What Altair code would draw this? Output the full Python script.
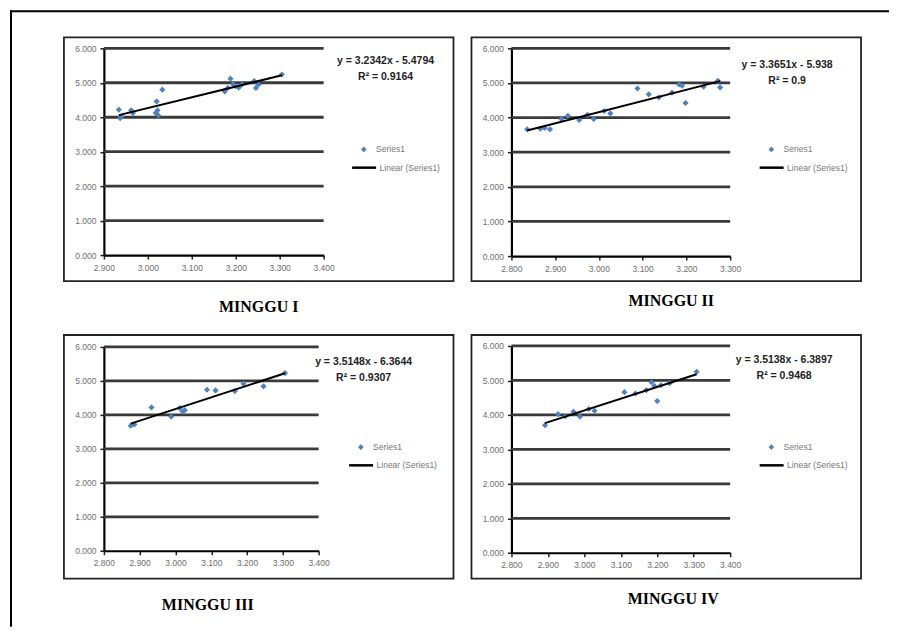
import altair as alt
import pandas as pd

# ---------------- data ----------------
titles = ["MINGGU I", "MINGGU II", "MINGGU III", "MINGGU IV"]
equations = ["y = 3.2342x - 5.4794", "y = 3.3651x - 5.938",
             "y = 3.5148x - 6.3644", "y = 3.5138x - 6.3897"]
r_squared = ["R\u00b2 = 0.9164", "R\u00b2 = 0.9", "R\u00b2 = 0.9307", "R\u00b2 = 0.9468"]
series_name = "Series1"
trend_name = "Linear (Series1)"

y_ticks = [0, 1, 2, 3, 4, 5, 6]
x_ticks_1 = [2.9, 3.0, 3.1, 3.2, 3.3, 3.4]
x_ticks_2 = [2.8, 2.9, 3.0, 3.1, 3.2, 3.3]
x_ticks_3 = [2.8, 2.9, 3.0, 3.1, 3.2, 3.3, 3.4]
x_ticks_4 = [2.8, 2.9, 3.0, 3.1, 3.2, 3.3, 3.4]

m1_x = [2.934, 2.937, 2.940, 2.962, 2.966, 3.018, 3.020, 3.022, 3.024, 3.033, 3.175,
        3.182, 3.188, 3.194, 3.200, 3.207, 3.214, 3.242, 3.246, 3.252, 3.305]
m1_y = [4.22, 3.97, 4.02, 4.20, 4.12, 4.12, 4.46, 4.20, 4.05, 4.80, 4.75,
        4.85, 5.12, 4.96, 4.90, 4.86, 4.95, 5.05, 4.85, 4.95, 5.24]

m2_x = [2.836, 2.866, 2.876, 2.888, 2.914, 2.929, 2.955, 2.974, 2.988, 3.012, 3.026,
        3.088, 3.114, 3.137, 3.167, 3.183, 3.190, 3.198, 3.239, 3.272, 3.277]
m2_y = [3.66, 3.68, 3.70, 3.66, 3.96, 4.05, 3.93, 4.08, 3.96, 4.19, 4.12,
        4.84, 4.67, 4.58, 4.72, 4.96, 4.92, 4.42, 4.89, 5.06, 4.87]

m3_x = [2.875, 2.885, 2.933, 2.988, 3.012, 3.020, 3.026, 3.088, 3.112, 3.166,
        3.190, 3.246, 3.306]
m3_y = [3.68, 3.72, 4.22, 3.95, 4.20, 4.10, 4.14, 4.74, 4.72, 4.70,
        4.92, 4.84, 5.23]

m4_x = [2.892, 2.928, 2.948, 2.970, 2.988, 3.012, 3.028, 3.110, 3.140, 3.170,
        3.184, 3.192, 3.200, 3.210, 3.234, 3.308]
m4_y = [3.70, 4.02, 3.96, 4.09, 3.95, 4.17, 4.12, 4.66, 4.62, 4.72,
        4.95, 4.84, 4.40, 4.86, 4.92, 5.25]

# ---------------- styling / layout ----------------
BOX_W = 390
BOX_H = 244
LABEL_FONT = "Liberation Sans"
POINT_COLOR = "#4F81BD"


def panel(xs, ys, xticks, eq, r2, title, xr, yr, eq_pos, leg_shift,
          title_pos, frame=False):
    df = pd.DataFrame({"x": xs, "y": ys, "s": [series_name] * len(xs)})
    xscale = alt.Scale(domain=[xticks[0], xticks[-1]], range=xr, nice=False, zero=False)
    yscale = alt.Scale(domain=[y_ticks[0], y_ticks[-1]], range=yr, nice=False, zero=False)
    common = dict(title=None, grid=False, domainColor="black", domainWidth=2.2,
                  tickColor="#222", tickSize=4, tickWidth=1.5, labelFontSize=8.5,
                  labelColor="#6e6e6e", labelFont=LABEL_FONT, labelFlush=False,
                  labelOverlap=False, format=".3f")
    xaxis = alt.Axis(values=xticks, offset=-(BOX_H - yr[0]), labelPadding=4, **common)
    yaxis = alt.Axis(values=y_ticks, offset=-xr[0], labelPadding=4, **common)
    X = alt.X("x:Q", scale=xscale, axis=xaxis)
    Y = alt.Y("y:Q", scale=yscale, axis=yaxis)

    grid_df = pd.DataFrame({"y": y_ticks[1:],
                            "x": [xticks[0]] * (len(y_ticks) - 1),
                            "x2": [xticks[-1]] * (len(y_ticks) - 1)})
    grid = alt.Chart(grid_df).mark_rule(color="#3a3a3a", strokeWidth=2.8).encode(
        x=X, x2="x2:Q", y=Y)

    points = alt.Chart(df).mark_point(shape="diamond", filled=True, size=38, opacity=1).encode(
        x=X, y=Y,
        fill=alt.Fill("s:N",
                      scale=alt.Scale(domain=[series_name], range=[POINT_COLOR]),
                      legend=alt.Legend(orient="none", legendX=296 + leg_shift, legendY=108,
                                        title=None, symbolType="diamond", symbolSize=32,
                                        symbolStrokeWidth=0, labelFontSize=8.5,
                                        labelColor="#777", labelFont=LABEL_FONT,
                                        labelOffset=8, padding=0)))

    trend = alt.Chart(df).transform_regression("x", "y").transform_calculate(
        s="'" + trend_name + "'"
    ).mark_line(strokeWidth=2).encode(
        x=X, y=Y,
        stroke=alt.Stroke("s:N",
                          scale=alt.Scale(domain=[trend_name], range=["#000000"]),
                          legend=alt.Legend(orient="none", legendX=287 + leg_shift, legendY=117,
                                            title=None, symbolType="stroke", symbolSize=576,
                                            symbolStrokeWidth=2.5, labelFontSize=8.5,
                                            labelColor="#777", labelFont=LABEL_FONT,
                                            labelOffset=2, padding=0)))

    eq_text = alt.Chart(pd.DataFrame({"t": [eq + "\n" + r2]})).mark_text(
        lineBreak="\n", align="center", baseline="middle", fontSize=10.5,
        fontWeight="bold", font=LABEL_FONT, color="#222", lineHeight=16
    ).encode(text="t:N", x=alt.value(eq_pos[0]), y=alt.value(eq_pos[1]))

    title_text = alt.Chart(pd.DataFrame({"t": [title]})).mark_text(
        align="center", baseline="middle", fontSize=16, fontWeight="bold",
        font="Liberation Serif", color="black"
    ).encode(text="t:N", x=alt.value(title_pos[0]), y=alt.value(title_pos[1]))

    layers = [grid, points, trend, eq_text, title_text]
    if frame:
        one = pd.DataFrame({"k": [0]})
        left = alt.Chart(one).mark_rule(color="black", strokeWidth=2).encode(
            x=alt.value(-53), y=alt.value(-27), y2=alt.value(590))
        top = alt.Chart(one).mark_rule(color="black", strokeWidth=2).encode(
            x=alt.value(-54), x2=alt.value(826), y=alt.value(-26))
        layers += [left, top]

    return alt.layer(*layers).properties(width=BOX_W, height=BOX_H)


p1 = panel(m1_x, m1_y, x_ticks_1, equations[0], r_squared[0], titles[0],
           [40, 260], [218, 11], (322, 24), 0, (195, 270), frame=True)
p2 = panel(m2_x, m2_y, x_ticks_2, equations[1], r_squared[1], titles[1],
           [40, 259], [219, 11], (316, 28), 0, (200, 264))
p3 = panel(m3_x, m3_y, x_ticks_3, equations[2], r_squared[2], titles[2],
           [40, 255], [216, 12], (300, 27), -3, (144, 270))
p4 = panel(m4_x, m4_y, x_ticks_4, equations[3], r_squared[3], titles[3],
           [40, 259], [218, 11], (313, 25), 0, (202, 264))

chart = alt.concat(p1, p2, p3, p4, columns=2, bounds="flush",
                   spacing=alt.RowColnumber(row=54, column=18)).resolve_scale(
    x="independent", y="independent", fill="independent", stroke="independent"
).resolve_legend(fill="independent", stroke="independent").properties(
    padding=0, background="white"
).configure_view(stroke="#222", strokeWidth=1.8, fill="white")

chart.save("out.html", embed_options={"renderer": "svg", "actions": False})
